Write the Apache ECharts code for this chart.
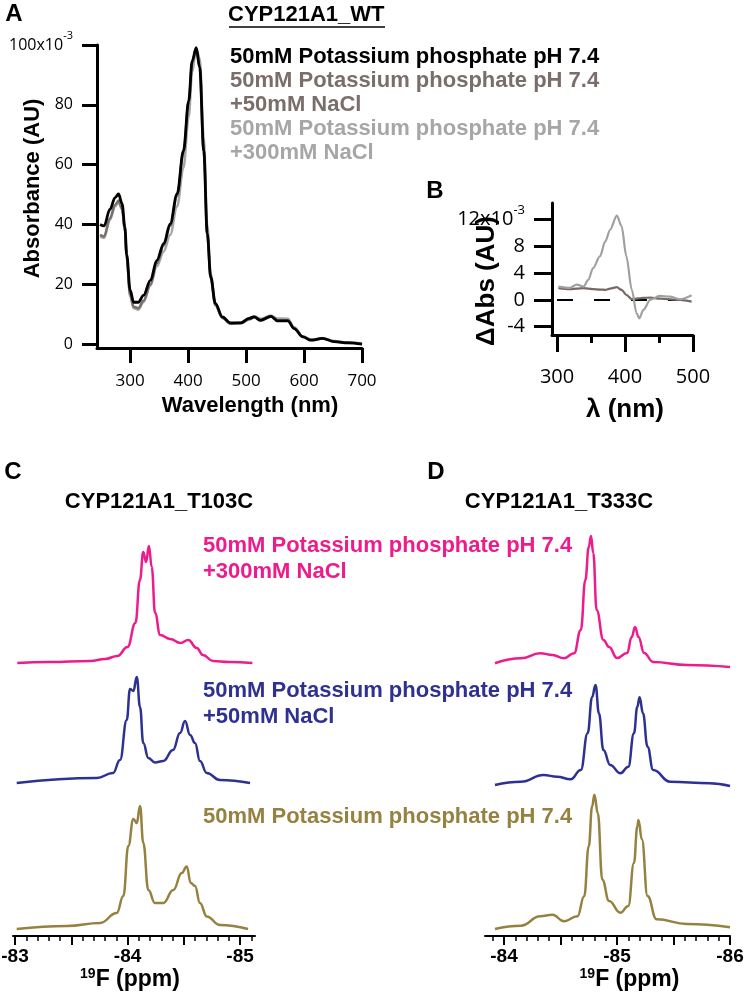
<!DOCTYPE html>
<html><head><meta charset="utf-8">
<script src="https://cdn.jsdelivr.net/npm/echarts@6/dist/echarts.min.js"></script>
<style>html,body{margin:0;padding:0;background:#fff}#wrap{position:relative;width:748px;height:995px}.p{position:absolute;left:0;top:0;width:748px;height:995px}</style>
</head><body><div id="wrap"><div class="p" id="pA"></div><div class="p" id="pB"></div><div class="p" id="pC"></div><div class="p" id="pD"></div><div class="p" id="pT"></div></div>
<script>
// ---------- Panel A: UV-vis absorbance (x10^-3 AU) ----------
const wavelengthA = [248, 255, 265, 274, 280, 286, 291, 294, 300, 306, 314, 323, 335, 346, 358, 369, 381, 392, 401, 407, 414, 420, 427, 433, 439, 447, 459, 473, 491, 505, 514, 525, 543, 554, 572, 583, 598, 612, 632, 652, 676, 700];
const absBuffer  = [40, 39.5, 45, 49, 50.2, 47, 39, 30, 18, 14, 14, 16.3, 21.3, 28, 33.6, 40.2, 50.2, 64.7, 81.3, 94.7, 99.1, 92.4, 64.7, 37, 22.4, 13.6, 9.1, 7.1, 7.1, 8.6, 9.1, 8, 9.3, 7.8, 7.8, 5.2, 2.4, 1.3, 1.9, 0.8, 0.4, 0];
const absNaCl50  = [36.5, 36, 42, 46.5, 48, 45.5, 38, 29, 16.5, 12.5, 12, 14.5, 20, 27, 33, 39.5, 49.5, 64, 81, 94, 98.8, 92.5, 64, 36.5, 22, 13, 8.7, 6.8, 7, 8.2, 9, 7.8, 9.2, 8, 8, 5.2, 2.5, 1.4, 1.9, 0.9, 0.5, 0];
const absNaCl300 = [36, 35.5, 41.5, 46, 47.5, 45, 37.5, 28.5, 16, 12, 11.5, 14, 19.5, 26, 31, 36.5, 46, 59, 76, 91, 99, 95.5, 69, 40, 23.5, 13.5, 9, 7, 7.2, 8.6, 9.3, 8.5, 9.6, 8.6, 8.5, 5.6, 2.6, 1.5, 2, 1, 0.5, 0.2];
const ticksAx = [300, 400, 500, 600, 700];
const ticksAy = [0, 20, 40, 60, 80, 100];

// ---------- Panel B: difference spectra (x10^-3 AU) ----------
const wavelengthB = [302, 319, 329, 339, 346, 353, 363, 371, 378, 388, 395, 402, 410, 417, 421, 427, 437, 451, 466, 481, 498];
const dAbsNaCl300 = [2.0, 1.8, 2.3, 2.0, 3.0, 4.75, 6.5, 8.75, 10.5, 12.6, 11, 6.5, 1.5, -2, -2.75, -1.5, 0, 0.6, 0.5, 0.1, 0.7];
const dAbsNaCl50  = [1.75, 1.6, 1.7, 1.75, 1.7, 1.6, 1.55, 1.5, 1.7, 1.9, 1.5, 0.75, 0.1, 0.2, 0.25, 0.3, 0.35, 0.2, 0.1, 0, -0.25];
const zeroLineB = [300, 500];
const ticksBxMajor = [300, 400, 500];
const ticksBxMinor = [350, 450];
const ticksBy = [-4, 0, 4, 8, 12];

// ---------- Panel C: CYP121A1_T103C 19F NMR (intensity, a.u.) ----------
const ppmC300 = [-83.02, -83.30, -83.67, -83.80, -83.91, -84.00, -84.07, -84.11, -84.14, -84.165, -84.19, -84.215, -84.245, -84.29, -84.38, -84.47, -84.54, -84.615, -84.67, -84.76, -84.90, -85.11];
const intC300 = [0, 1, 2, 4, 7, 16, 40, 83, 111, 101, 117, 96, 50, 28, 24, 20, 23, 15, 8, 2, 1, 0];
const ppmC50 = [-83.015, -83.726, -83.871, -83.933, -83.993, -84.022, -84.052, -84.082, -84.111, -84.14, -84.185, -84.244, -84.318, -84.404, -84.467, -84.511, -84.556, -84.6, -84.644, -84.704, -84.822, -85.089];
const intC50 = [0, 5, 10, 23, 63, 94, 92, 106, 76, 40, 25, 20.6, 22, 33, 50, 62, 48, 40, 22, 10, 3, 0];
const ppmCbuf = [-83.015, -83.46, -83.756, -83.904, -83.963, -84.007, -84.052, -84.082, -84.111, -84.14, -84.185, -84.244, -84.318, -84.407, -84.482, -84.526, -84.562, -84.6, -84.644, -84.704, -84.822, -85.071];
const intCbuf = [0, 3, 6, 16, 33, 83, 110, 106, 123, 86, 39, 26, 26, 39, 56, 62.6, 46, 43, 26, 12.6, 4, 0];
const ticksCmajor = [-83, -83.5, -84, -84.5, -85];
const ticksClabel = [-83, -84, -85];
const ticksCminor = [-83.1, -83.2, -83.3, -83.4, -83.6, -83.7, -83.8, -83.9, -84.1, -84.2, -84.3, -84.4, -84.6, -84.7, -84.8, -84.9, -85.1];

// ---------- Panel D: CYP121A1_T333C 19F NMR (intensity, a.u.) ----------
const ppmD300 = [-83.92, -84.15, -84.32, -84.43, -84.53, -84.62, -84.68, -84.72, -84.75, -84.77, -84.79, -84.82, -84.88, -84.93, -85.00, -85.09, -85.13, -85.16, -85.19, -85.24, -85.32, -85.62, -86.00];
const intD300 = [2.7, 7.7, 12.7, 11, 7.7, 12.7, 36, 86, 119, 130, 113, 56, 26, 19, 8, 13, 29, 39, 29, 13, 4, 1, -1];
const ppmD50 = [-83.92, -84.15, -84.35, -84.47, -84.59, -84.68, -84.74, -84.78, -84.81, -84.84, -84.88, -84.94, -85.03, -85.10, -85.15, -85.18, -85.20, -85.23, -85.27, -85.32, -85.47, -85.82, -86.00];
const intD50 = [0, 3.3, 10, 8.3, 5.7, 15, 51.7, 88, 100, 71.7, 35, 20, 11.7, 18.3, 51.7, 78.3, 87.7, 71.7, 38.3, 15, 3.3, 1.7, -1];
const ppmDbuf = [-83.92, -84.15, -84.32, -84.43, -84.53, -84.65, -84.71, -84.75, -84.78, -84.80, -84.83, -84.87, -84.93, -85.03, -85.10, -85.15, -85.18, -85.19, -85.22, -85.27, -85.35, -85.62, -86.00];
const intDbuf = [0, 3.3, 12.7, 14.3, 7.7, 12.7, 32.7, 82.7, 122.7, 134.3, 116, 49.3, 28, 16.3, 23, 66, 102.7, 109, 89.7, 33, 9.7, 5, 1.7];
const ticksDmajor = [-84, -84.5, -85, -85.5, -86];
const ticksDlabel = [-84, -85, -86];
const ticksDminor = [-83.9, -84.1, -84.2, -84.3, -84.4, -84.6, -84.7, -84.8, -84.9, -85.1, -85.2, -85.3, -85.4, -85.6, -85.7, -85.8, -85.9];

// ---------- names / colours ----------
const nameBuf = '50mM Potassium phosphate pH 7.4';
const name50 = '50mM Potassium phosphate pH 7.4\n+50mM NaCl';
const name300 = '50mM Potassium phosphate pH 7.4\n+300mM NaCl';
const colA = { buf: '#000000', n50: '#7a6e6b', n300: '#a6a6a6' };
const colNMR = { buf: '#958241', n50: '#2e3192', n300: '#ec1c8c' };

const zip = (xs, ys) => xs.map((x, i) => [x, ys[i]]);
const cp = (a) => a.slice();
const BOLD = 'Liberation Sans';
const REG = 'Open Sans';

const gridBase = { containLabel: false, outerBoundsMode: 'none' };
const G = (left, top, width, height) => Object.assign({ left, top, width, height }, gridBase);
const blackLine = (w) => ({ show: true, onZero: false, lineStyle: { color: '#000', width: w } });
const hiddenLine = { show: false, onZero: false };
const nameBold = (size) => ({ fontSize: size, fontWeight: 'bold', fontFamily: BOLD, color: '#000' });
const dummy = (gi) => ({ gridIndex: gi, type: 'value', min: 0, max: 1, show: false });
// axis that only carries its title (placed through its grid)
const nameAxis = (gi, name, gap, style, extra) => Object.assign({ gridIndex: gi, type: 'value', min: 0, max: 1,
  axisLine: hiddenLine, axisTick: { show: false }, axisLabel: { show: false }, splitLine: { show: false },
  name, nameLocation: 'middle', nameGap: gap, nameTextStyle: style }, extra || {});
// axis that only carries ticks
const tickAxis = (base, values, length, width) => Object.assign({}, base, {
  axisLine: hiddenLine, axisLabel: { show: false }, splitLine: { show: false },
  axisTick: { show: true, inside: false, customValues: cp(values), length, lineStyle: { color: '#000', width } }
});
const lineSeries = (name, xi, yi, data, color, width, smooth) => ({
  type: 'line', name, xAxisIndex: xi, yAxisIndex: yi, data, showSymbol: false, symbol: 'none',
  smooth: smooth, smoothMonotone: 'x', lineStyle: { color, width }, itemStyle: { color }, silent: true
});
const legendBase = (left, top, lineHeight, items) => ({
  left, top, orient: 'vertical', itemGap: 0, padding: 0, icon: 'rect', itemWidth: 0, itemHeight: 0,
  itemStyle: { opacity: 0 }, lineStyle: { opacity: 0 }, selectedMode: false,
  textStyle: { fontSize: 22, fontWeight: 'bold', fontFamily: BOLD, lineHeight },
  data: items.map(([name, color]) => ({ name, textStyle: { color } }))
});
const txt = (text, x, y, size, align) => ({ type: 'text', x, y, silent: true,
  style: { text, fontSize: size, fontWeight: 'bold', fontFamily: BOLD, fill: '#000', align: align || 'center', verticalAlign: 'middle' } });
const nmrNameStyle = { fontSize: 23, fontWeight: 'bold', fontFamily: BOLD, color: '#000', rich: {
  s: { fontSize: 14, fontWeight: 'bold', fontFamily: BOLD, color: '#000', verticalAlign: 'top', lineHeight: 26 },
  n: { fontSize: 23, fontWeight: 'bold', fontFamily: BOLD, color: '#000', lineHeight: 26 } } };

const init = (id) => echarts.init(document.getElementById(id), null, { renderer: 'canvas' });

// ================= Panel A =================
const axA = { gridIndex: 0, type: 'value', min: 242.8, max: 700, position: 'bottom' };
const ayA = { gridIndex: 0, type: 'value', min: -1.3, max: 100, position: 'left' };
init('pA').setOption({
  animation: false,
  grid: [G(97, 45, 265, 303), G(117.5, 45, 265, 303), G(97, 37, 265, 303)],
  xAxis: [
    Object.assign({}, axA, { axisLine: blackLine(3), axisTick: { show: false },
      axisLabel: { customValues: cp(ticksAx), margin: 25, fontSize: 17, fontFamily: REG, color: '#000' },
      splitLine: { show: false } }),
    nameAxis(1, 'Wavelength (nm)', 47, nameBold(22), { position: 'bottom' }),
    dummy(2)
  ],
  yAxis: [
    Object.assign({}, ayA, { axisLine: blackLine(3), axisTick: { show: false },
      axisLabel: { customValues: cp(ticksAy), margin: 24, fontSize: 16, fontFamily: REG, color: '#000',
        formatter: v => v === 100 ? '{n|100x10}{s|-3}' : '{n|' + v + '}',
        rich: { n: { fontSize: 16, fontFamily: REG, color: '#000', lineHeight: 30 },
                s: { fontSize: 11, fontFamily: REG, color: '#000', verticalAlign: 'top' } } },
      splitLine: { show: false } }),
    dummy(1),
    nameAxis(2, 'Absorbance (AU)', 53, nameBold(22), { position: 'left' })
  ],
  legend: [legendBase(225, 45, 24, [[nameBuf, colA.buf], [name50, colA.n50], [name300, colA.n300]])],
  series: [
    lineSeries(name300, 0, 0, zip(wavelengthA, absNaCl300), colA.n300, 2.5, 0.35),
    lineSeries(name50, 0, 0, zip(wavelengthA, absNaCl50), colA.n50, 2.5, 0.35),
    lineSeries(nameBuf, 0, 0, zip(wavelengthA, absBuffer), colA.buf, 2.8, 0.35)
  ],
  graphic: [
    txt('A', 14, 14, 24),
    txt('CYP121A1_WT', 228, 15, 22, 'left'),
    { type: 'line', silent: true, shape: { x1: 229, y1: 27, x2: 385, y2: 27 }, style: { stroke: '#000', lineWidth: 1.5 } }
  ]
});

// ================= Panel B =================
const axB = { gridIndex: 0, type: 'value', min: 292.6, max: 500, position: 'bottom' };
const ayB = { gridIndex: 0, type: 'value', min: -5.25, max: 14.5, position: 'left' };
init('pB').setOption({
  animation: false,
  grid: [G(552, 203, 141, 132), G(554.5, 203, 141, 132), G(552, 215, 141, 132)],
  xAxis: [
    Object.assign({}, axB, { axisLine: blackLine(3), axisTick: { show: false },
      axisLabel: { customValues: cp(ticksBxMajor), margin: 32, fontSize: 20, fontFamily: REG, color: '#000' },
      splitLine: { show: false } }),
    nameAxis(1, 'λ (nm)', 62, nameBold(26), { position: 'bottom' }),
    dummy(2)
  ],
  yAxis: [
    Object.assign({}, ayB, { axisLine: blackLine(3), axisTick: { show: false },
      axisLabel: { customValues: cp(ticksBy), margin: 27, fontSize: 20, fontFamily: REG, color: '#000',
        formatter: v => v === 12 ? '{n|12x10}{s|-3}' : '{n|' + v + '}',
        rich: { n: { fontSize: 20, fontFamily: REG, color: '#000', lineHeight: 32 },
                s: { fontSize: 13, fontFamily: REG, color: '#000', verticalAlign: 'top' } } },
      splitLine: { show: false } }),
    dummy(1),
    nameAxis(2, '\u0394Abs (AU)', 52, nameBold(26), { position: 'left' })
  ],
  series: [
    Object.assign(lineSeries('zero', 0, 0, zeroLineB.map(x => [x, 0]), '#000', 2, false), { lineStyle: { color: '#000', width: 2, type: [16, 21] } }),
    lineSeries(name50, 0, 0, zip(wavelengthB, dAbsNaCl50), '#766a66', 2.2, 0.3),
    lineSeries(name300, 0, 0, zip(wavelengthB, dAbsNaCl300), '#a0a0a0', 2.2, 0.3)
  ],
  graphic: [txt('B', 435, 191, 24)]
});

// ================= Panels C and D (19F NMR) =================
function nmrPanel(id, left, width, xmin, xmax, tops, labels, nameLeft, traces, letter, title, withLegend) {
  const grids = tops.map(t => G(left, t, width, 147));
  grids.push(G(nameLeft, tops[2], width, 147));
  const xAxis = [
    { gridIndex: 0, type: 'value', inverse: true, min: xmin, max: xmax, show: false },
    { gridIndex: 1, type: 'value', inverse: true, min: xmin, max: xmax, show: false },
    { gridIndex: 2, type: 'value', inverse: true, min: xmin, max: xmax, position: 'bottom',
      axisLine: blackLine(2), axisTick: { show: false },
      axisLabel: { customValues: cp(labels), margin: 11, fontSize: 19, fontWeight: 'bold', fontFamily: BOLD, color: '#000' },
      splitLine: { show: false } },
    nameAxis(3, '{s|19}{n|F (ppm)}', 31, nmrNameStyle, { position: 'bottom' })
  ];
  const yAxis = [0, 1, 2].map(g => ({ gridIndex: g, type: 'value', min: -7, max: 140, show: false }));
  yAxis.push(dummy(3));
  const series = traces.map((t, g) => lineSeries(t[0], g, g, zip(t[1], t[2]), t[3], 2.5, 0.45));
  const opt = { animation: false, grid: grids, xAxis, yAxis, series,
    graphic: [txt(letter[0], letter[1], 472, 24), txt(title[0], title[1], 502, 22)] };
  if (withLegend) opt.legend = [
    legendBase(198, 533, 26, [[name300, colNMR.n300]]),
    legendBase(198, 678, 26, [[name50, colNMR.n50]]),
    legendBase(198, 804, 26, [[nameBuf, colNMR.buf]])
  ];
  init(id).setOption(opt);
}
const cMin = -85.133, cMax = -82.982;
const dMin = -86.0, dMax = -83.832;
nmrPanel('pC', 13, 242, cMin, cMax, [523, 643, 789], ticksClabel, 9,
  [[name300, ppmC300, intC300, colNMR.n300], [name50, ppmC50, intC50, colNMR.n50], [nameBuf, ppmCbuf, intCbuf, colNMR.buf]],
  ['C', 13], ['CYP121A1_T103C', 159], true);
nmrPanel('pD', 485, 245, dMin, dMax, [526, 645, 789], ticksDlabel, 507,
  [[name300, ppmD300, intD300, colNMR.n300], [name50, ppmD50, intD50, colNMR.n50], [nameBuf, ppmDbuf, intDbuf, colNMR.buf]],
  ['D', 436], ['CYP121A1_T333C', 559], false);

// ================= Axis ticks (same scales as the panels' axes) =================
const tA = { gridIndex: 0, type: 'value', min: 242.8, max: 700, position: 'bottom' };
const tAy = { gridIndex: 0, type: 'value', min: -1.3, max: 100, position: 'left' };
const tB = { gridIndex: 1, type: 'value', min: 292.6, max: 500, position: 'bottom' };
const tBy = { gridIndex: 1, type: 'value', min: -5.25, max: 14.5, position: 'left' };
const tC = { gridIndex: 2, type: 'value', inverse: true, min: cMin, max: cMax, position: 'bottom' };
const tD = { gridIndex: 3, type: 'value', inverse: true, min: dMin, max: dMax, position: 'bottom' };
init('pT').setOption({
  animation: false,
  grid: [G(97, 45, 265, 303), G(552, 203, 141, 132), G(13, 789, 242, 147), G(485, 789, 245, 147)],
  xAxis: [
    tickAxis(tA, ticksAx, 15, 3),
    tickAxis(tB, ticksBxMajor, 17, 3),
    tickAxis(tB, ticksBxMinor, 8, 3),
    tickAxis(tC, ticksCmajor, 9, 2),
    tickAxis(tC, ticksCminor, 5, 1.5),
    tickAxis(tD, ticksDmajor, 9, 2),
    tickAxis(tD, ticksDminor, 5, 1.5)
  ],
  yAxis: [
    tickAxis(tAy, ticksAy, 15, 3),
    tickAxis(tBy, ticksBy, 18, 3),
    dummy(2),
    dummy(3)
  ],
  series: []
});
</script>
</body></html>
